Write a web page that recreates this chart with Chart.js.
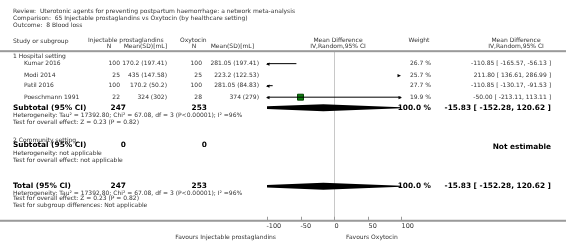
<!DOCTYPE html>
<html>
<head>
<meta charset="utf-8">
<script src="https://cdn.jsdelivr.net/npm/chart.js@4.4.1/dist/chart.umd.min.js"></script>
<style>
  html, body { margin: 0; padding: 0; background: #fff; }
  #wrap { width: 566px; height: 248px; position: relative; }
</style>
</head>
<body>
<div id="wrap"><canvas id="forest" width="566" height="248"></canvas></div>
<script>
// study data
const studies = ['Kumar 2016', 'Modi 2014', 'Patil 2016', 'Poeschmann 1991'];
const protN = [100, 25, 100, 22];
const protMean = ['170.2', '435', '170.2', '324'];
const protSD = ['197.41', '147.58', '50.2', '302'];
const oxyN = [100, 25, 100, 28];
const oxyMean = ['281.05', '223.2', '281.05', '374'];
const oxySD = ['197.41', '122.53', '84.83', '279'];
const meanDiff = [-110.85, 211.80, -110.85, -50.00];
const ciLow = [-165.57, 136.61, -130.17, -213.11];
const ciHigh = [-56.13, 286.99, -91.53, 113.11];
const weights = [26.7, 25.7, 27.7, 19.9];

// pooled results
const subtotalN = [247, 253];
const pooledMD = -15.83;
const pooledCI = [-152.28, 120.62];
const pooledWeight = 100.0;

const axisTicks = [-100, -50, 0, 50, 100];
const XMIN = -100, XMAX = 100;

// layout (pixel rows)
const studyRows = [61, 73, 84, 96];
const subtotalRow = 107;
const totalRow = 189;
const headerLineY = 48;
const axisLineY = 225;

const FONT = '"DejaVu Sans", Verdana, sans-serif';
const TXT = '#333';
const FS = 6;     // small text
const FB = 7.4;   // bold totals

const clamp = v => Math.max(XMIN, Math.min(XMAX, v));
const fmt = v => v.toFixed(2);

const ciDatasets = studies.map((s, i) => ({
    type: 'line',
    label: s,
    data: [{ x: clamp(ciLow[i]), y: studyRows[i] }, { x: clamp(ciHigh[i]), y: studyRows[i] }],
    borderColor: '#000',
    borderWidth: 1,
    pointRadius: 0,
    clip: 4
}));

const squareData = studies.map((s, i) => (meanDiff[i] >= XMIN && meanDiff[i] <= XMAX)
    ? { x: meanDiff[i], y: studyRows[i], r: 4.2 * Math.sqrt(weights[i] / 19.9) } : null).filter(Boolean);

const forestPlugin = {
    id: 'forest',
    beforeDatasetsDraw(chart) {
        const { ctx, scales: { x, y } } = chart;
        ctx.save();
        // zero line
        ctx.strokeStyle = '#c8c8c8';
        ctx.lineWidth = 1;
        const zx = Math.round(x.getPixelForValue(0)) + 0.5;
        ctx.beginPath();
        ctx.moveTo(zx, y.getPixelForValue(headerLineY));
        ctx.lineTo(zx, y.getPixelForValue(axisLineY));
        ctx.stroke();
        ctx.restore();
    },
    afterDatasetsDraw(chart) {
        const { ctx, scales: { x, y } } = chart;
        const W = chart.width;
        ctx.save();

        // arrows where a CI runs off the axis
        const arrow = (px, py, dir) => {
            ctx.fillStyle = '#000';
            ctx.beginPath();
            ctx.moveTo(px + dir * 1, py);
            ctx.lineTo(px - dir * 2.5, py - 1.6);
            ctx.lineTo(px - dir * 2.5, py + 1.6);
            ctx.closePath();
            ctx.fill();
        };
        studies.forEach((s, i) => {
            const py = y.getPixelForValue(studyRows[i]);
            const left = x.getPixelForValue(XMIN), right = x.getPixelForValue(XMAX);
            if (ciHigh[i] < XMIN) {
                ctx.strokeStyle = '#000'; ctx.lineWidth = 1;
                ctx.beginPath(); ctx.moveTo(left, py + 0.5); ctx.lineTo(left + 5, py + 0.5); ctx.stroke();
                arrow(left, py + 0.5, -1);
            } else if (ciLow[i] > XMAX) {
                arrow(right - 1, py + 0.5, 1);
            } else {
                if (ciLow[i] < XMIN) arrow(left, py + 0.5, -1);
                if (ciHigh[i] > XMAX) arrow(right, py + 0.5, 1);
            }
        });

        // pooled diamonds (clipped to the axis range)
        const diamond = (row) => {
            const py = y.getPixelForValue(row);
            ctx.save();
            ctx.beginPath();
            ctx.rect(x.getPixelForValue(XMIN), py - 6, x.getPixelForValue(XMAX) - x.getPixelForValue(XMIN), 12);
            ctx.clip();
            ctx.fillStyle = '#000';
            ctx.beginPath();
            ctx.moveTo(x.getPixelForValue(pooledCI[0]), py);
            ctx.lineTo(x.getPixelForValue(pooledMD), py - 3.5);
            ctx.lineTo(x.getPixelForValue(pooledCI[1]), py);
            ctx.lineTo(x.getPixelForValue(pooledMD), py + 3.5);
            ctx.closePath();
            ctx.fill();
            ctx.restore();
        };
        diamond(subtotalRow);
        diamond(totalRow);

        // horizontal rules
        ctx.fillStyle = '#9a9a9a';
        ctx.fillRect(0, y.getPixelForValue(headerLineY) - 1, W, 2);
        ctx.fillRect(0, y.getPixelForValue(axisLineY) - 1, W, 2);

        // axis ticks + labels
        ctx.strokeStyle = '#9a9a9a';
        ctx.lineWidth = 1;
        ctx.font = '6.5px ' + FONT;
        ctx.fillStyle = TXT;
        ctx.textAlign = 'left';
        ctx.textBaseline = 'middle';
        axisTicks.forEach(t => {
            const tx = Math.round(x.getPixelForValue(t)) + 0.5;
            ctx.beginPath();
            ctx.moveTo(tx, y.getPixelForValue(axisLineY) - 4);
            ctx.lineTo(tx, y.getPixelForValue(axisLineY));
            ctx.stroke();
            ctx.fillText(String(t), tx - (t < 0 ? 1 : 0), y.getPixelForValue(axisLineY) + 6);
        });

        const text = (str, px, row, align, size, bold, color) => {
            ctx.font = (bold ? 'bold ' : '') + size + 'px ' + FONT;
            ctx.fillStyle = color || TXT;
            ctx.textAlign = align || 'left';
            ctx.textBaseline = 'middle';
            ctx.fillText(str, px, y.getPixelForValue(row));
        };

        // title block
        text('Review:  Uterotonic agents for preventing postpartum haemorrhage: a network meta-analysis', 13, 7, 'left', FS);
        text('Comparison:  65 Injectable prostaglandins vs Oxytocin (by healthcare setting)', 13, 14, 'left', FS);
        text('Outcome:  8 Blood loss', 13, 21, 'left', FS);

        // column headers
        text('Study or subgroup', 13, 38, 'left', FS);
        text('Injectable prostaglandins', 88, 37, 'left', FS);
        text('Oxytocin', 180, 37, 'left', FS);
        text('N', 109, 43, 'center', FS);
        text('Mean(SD)[mL]', 167, 43, 'right', FS);
        text('N', 194, 43, 'center', FS);
        text('Mean(SD)[mL]', 254, 43, 'right', FS);
        text('Mean Difference', 338, 37, 'center', FS);
        text('IV,Random,95% CI', 338, 43, 'center', FS);
        text('Weight', 419, 37, 'center', FS);
        text('Mean Difference', 516, 37, 'center', FS);
        text('IV,Random,95% CI', 516, 43, 'center', FS);

        // subgroup 1
        text('1 Hospital setting', 13, 53, 'left', FS);
        studies.forEach((s, i) => {
            const r = studyRows[i];
            text(s, 24, r, 'left', FS);
            text(String(protN[i]), 120, r, 'right', FS);
            text(protMean[i] + ' (' + protSD[i] + ')', 167, r, 'right', FS);
            text(String(oxyN[i]), 202, r, 'right', FS);
            text(oxyMean[i] + ' (' + oxySD[i] + ')', 259, r, 'right', FS);
            text(weights[i].toFixed(1) + ' %', 431, r, 'right', FS);
            text(fmt(meanDiff[i]) + ' [ ' + fmt(ciLow[i]) + ', ' + fmt(ciHigh[i]) + ' ]', 551, r, 'right', FS);
        });
        const pooledText = fmt(pooledMD) + ' [ ' + fmt(pooledCI[0]) + ', ' + fmt(pooledCI[1]) + ' ]';
        text('Subtotal (95% CI)', 13, subtotalRow, 'left', FB, true, '#000');
        text(String(subtotalN[0]), 126, subtotalRow, 'right', FB, true, '#000');
        text(String(subtotalN[1]), 207, subtotalRow, 'right', FB, true, '#000');
        text(pooledWeight.toFixed(1) + ' %', 431, subtotalRow, 'right', FB, true, '#000');
        text(pooledText, 551, subtotalRow, 'right', FB, true, '#000');
        text('Heterogeneity: Tau\u00b2 = 17392.80; Chi\u00b2 = 67.08, df = 3 (P<0.00001); I\u00b2 =96%', 13, 115, 'left', FS);
        text('Test for overall effect: Z = 0.23 (P = 0.82)', 13, 122, 'left', FS);

        // subgroup 2
        text('2 Community setting', 13, 141, 'left', FS);
        text('Subtotal (95% CI)', 13, 146, 'left', FB, true, '#000');
        text('0', 126, 146, 'right', FB, true, '#000');
        text('0', 207, 146, 'right', FB, true, '#000');
        text('Not estimable', 551, 148, 'right', FB, true, '#000');
        text('Heterogeneity: not applicable', 13, 155, 'left', FS);
        text('Test for overall effect: not applicable', 13, 162, 'left', FS);

        // overall
        text('Total (95% CI)', 13, totalRow, 'left', FB, true, '#000');
        text(String(subtotalN[0]), 126, totalRow, 'right', FB, true, '#000');
        text(String(subtotalN[1]), 207, totalRow, 'right', FB, true, '#000');
        text(pooledWeight.toFixed(1) + ' %', 431, totalRow, 'right', FB, true, '#000');
        text(pooledText, 551, totalRow, 'right', FB, true, '#000');
        text('Heterogeneity: Tau\u00b2 = 17392.80; Chi\u00b2 = 67.08, df = 3 (P<0.00001); I\u00b2 =96%', 13, 196, 'left', FS);
        text('Test for overall effect: Z = 0.23 (P = 0.82)', 13, 202, 'left', FS);
        text('Test for subgroup differences: Not applicable', 13, 209, 'left', FS);

        // favours labels
        text('Favours Injectable prostaglandins', 276, 242, 'right', FS);
        text('Favours Oxytocin', 346, 242, 'left', FS);

        ctx.restore();
    }
};

new Chart(document.getElementById('forest'), {
    type: 'scatter',
    data: {
        datasets: [
            ...ciDatasets,
            {
                type: 'scatter',
                label: 'Mean difference',
                data: squareData,
                pointStyle: 'rect',
                pointRadius: ctx => (ctx.raw ? ctx.raw.r : 3),
                backgroundColor: '#0e7d0e',
                borderColor: '#004400',
                borderWidth: 1,
                clip: 6
            }
        ]
    },
    options: {
        responsive: false,
        animation: false,
        events: [],
        layout: { padding: { left: 267, right: 165, top: 0, bottom: 0 } },
        plugins: { legend: { display: false }, tooltip: { enabled: false } },
        scales: {
            x: { type: 'linear', min: XMIN, max: XMAX, display: false },
            y: { type: 'linear', min: 0, max: 248, reverse: true, display: false }
        }
    },
    plugins: [forestPlugin]
});
</script>
</body>
</html>
